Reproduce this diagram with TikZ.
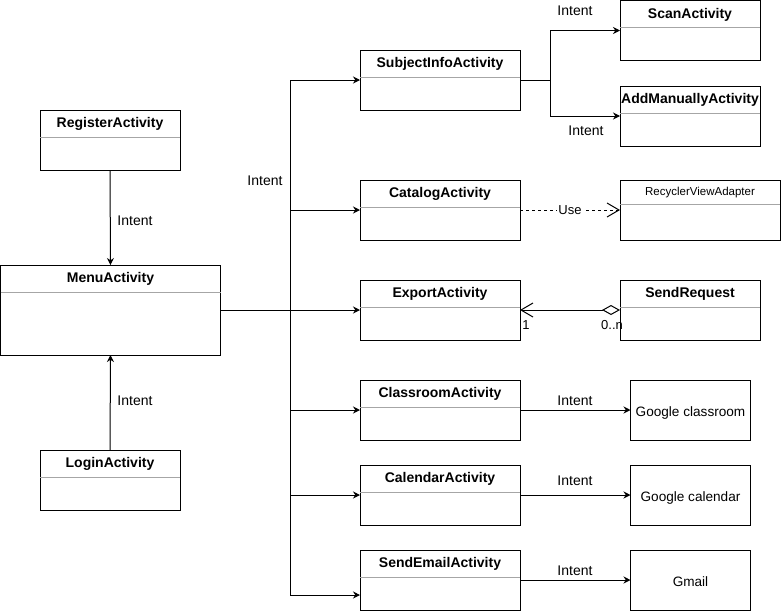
\documentclass[tikz,border=0pt]{standalone}
\usepackage{fontspec}
\setmainfont{Liberation Sans}
\usetikzlibrary{arrows.meta}

\tikzset{
  clsbox/.style={draw, line width=1pt, minimum height=60pt, inner sep=0pt, outer sep=0pt},
  clstitle/.style={anchor=base, font=\fontsize{14}{16}\selectfont\bfseries, inner sep=0pt},
  clsline/.style={draw=gray!70, line width=1pt},
  arr/.style={line width=1pt, -{Stealth[length=7pt,width=7pt]}},
  lbl/.style={font=\fontsize{14}{16}\selectfont, inner sep=1pt},
  smalllbl/.style={font=\fontsize{13}{15}\selectfont, inner sep=1pt},
  extbox/.style={draw, line width=1pt, minimum width=120pt, minimum height=60pt,
    inner sep=0pt, outer sep=0pt, text height=12.3pt, text depth=0pt,
    font=\fontsize{13.6}{15}\selectfont},
}
\newcommand{\umlclass}[5][60pt]{%
  \node[clsbox, minimum width=#4, minimum height=#1] (#2) at (#3) {};
  \node[clstitle] (#2-title) at ([yshift=-17.5pt]#2.north) {#5};
  \draw[clsline] ([yshift=-27pt]#2.north west) -- ([yshift=-27pt]#2.north east);
}

\begin{document}
\begin{tikzpicture}[x=1pt,y=-1pt]
        \useasboundingbox (0,0) rectangle (781,611);
        % left column
        \umlclass{register}{110,140}{140pt}{RegisterActivity}
        \umlclass[90pt]{menu}{110.5,310}{220pt}{MenuActivity}
        \umlclass{login}{110,480}{140pt}{LoginActivity}
        % middle column
        \umlclass{subject}{440,80}{160pt}{SubjectInfoActivity}
        \umlclass{catalog}{440,210}{160pt}{CatalogActivity}
        \umlclass{export}{440,310}{160pt}{ExportActivity}
        \umlclass{classroom}{440,410}{160pt}{ClassroomActivity}
        \umlclass{calendar}{440,495}{160pt}{CalendarActivity}
        \umlclass{sendemail}{440,580}{160pt}{SendEmailActivity}
        % right column
        \umlclass{scan}{690,30.5}{140pt}{ScanActivity}
        \umlclass{addman}{690,116}{140pt}{AddManuallyActivity}
        \umlclass{sendreq}{690,310}{140pt}{SendRequest}
        \node[clsbox, minimum width=160pt] (adapter) at (700,210) {};
        \node[anchor=base, font=\fontsize{11.5}{13}\selectfont, inner sep=0pt] (adapter-title)
            at ([yshift=-15.5pt]adapter.north) {RecyclerViewAdapter};
        \draw[clsline] ([yshift=-24pt]adapter.north west) -- ([yshift=-24pt]adapter.north east);
        \node[extbox] (gclassroom) at (690.5,410) {Google classroom};
        \node[extbox] (gcalendar) at (690.5,495) {Google calendar};
        \node[extbox] (gmail) at (690.5,580) {Gmail};

        % intents into the menu
        \draw[arr] (register.south) -- (menu.north);
        \node[lbl] (reg-intent) at (135,221) {Intent};
        \draw[arr] (login.north) -- (menu.south);
        \node[lbl] (login-intent) at (135,401) {Intent};

        % menu bus
        \coordinate (bus) at (290,310);
        \draw[line width=1pt] (menu.east) -- (bus);
        \draw[arr] (bus) |- (subject.west);
        \draw[arr] (bus) |- (catalog.west);
        \draw[arr] (bus) -- (export.west);
        \draw[arr] (bus) |- (classroom.west);
        \draw[arr] (bus) |- (calendar.west);
        \draw[arr] (bus) |- ([yshift=-15pt]sendemail.west);
        \node[lbl] (bus-intent) at (265,181) {Intent};

        % subject info split
        \coordinate (split) at (550,80);
        \draw[line width=1pt] (subject.east) -- (split);
        \draw[arr] (split) |- (scan.west);
        \draw[arr] (split) |- (addman.west);
        \node[lbl] (scan-intent) at (575,11) {Intent};
        \node[lbl] (add-intent) at (586,131) {Intent};

        % use and aggregation
        \draw[line width=1pt, dash pattern=on 3pt off 3pt,
            -{Straight Barb[length=12pt,width=14pt]}]
            (catalog.east) -- node[smalllbl, fill=white] (use-lbl) {Use} (adapter.west);
        \draw[line width=1pt, {Straight Barb[length=12pt,width=14pt]}-{Diamond[open,length=18pt,width=10pt]}]
            (export.east) -- (sendreq.west);
        \node[smalllbl] (one-lbl) at (526,325) {1};
        \node[smalllbl] (many-lbl) at (612,325) {0..n};

        % external apps
        \draw[arr] (classroom.east) -- (gclassroom.west);
        \node[lbl] (class-intent) at (575,401) {Intent};
        \draw[arr] (calendar.east) -- (gcalendar.west);
        \node[lbl] (cal-intent) at (575,481) {Intent};
        \draw[arr] (sendemail.east) -- (gmail.west);
        \node[lbl] (mail-intent) at (575,571) {Intent};
    \end{tikzpicture}
\end{document}
